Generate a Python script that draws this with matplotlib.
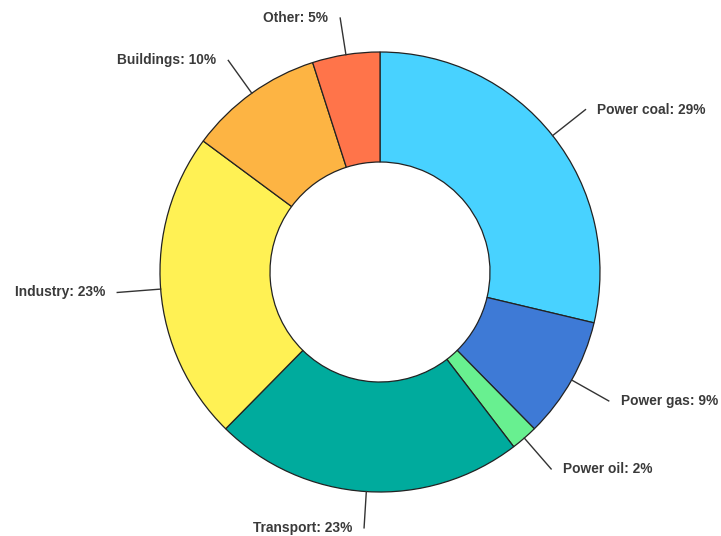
import numpy as np
import matplotlib.pyplot as plt

labels = ["Power coal", "Power gas", "Power oil", "Transport", "Industry", "Buildings", "Other"]
values = [29, 9, 2, 23, 23, 10, 5]
colors = ["#48d2ff", "#3e7ad6", "#68f090", "#00ab9d", "#fff154", "#fdb443", "#ff744a"]

W, H = 721, 536
cx, cy, R = 380, H - 272, 220

fig = plt.figure(figsize=(W / 100, H / 100), dpi=100)
ax = fig.add_axes([0, 0, 1, 1])

wedges, _ = ax.pie(values, colors=colors, startangle=90, counterclock=False,
                   radius=R, center=(cx, cy),
                   wedgeprops=dict(width=0.5 * R, edgecolor="#222222", linewidth=0.9))

for w, lab, v in zip(wedges, labels, values):
    ang = np.deg2rad((w.theta1 + w.theta2) / 2)
    c, s = np.cos(ang), np.sin(ang)
    r1 = R * (1.163 + 0.035 * abs(c))
    x0, y0 = cx + R * c, cy + R * s
    x1, y1 = cx + r1 * c, cy + r1 * s
    ax.plot([x0, x1], [y0, y1], color="#333333", lw=1.0)
    dx = 12 if c >= 0 else -12
    ax.text(x1 + dx, y1, f"{lab}: {v}%", ha="left" if c >= 0 else "right",
            va="center", fontsize=9.9, fontweight="bold", color="#3a3a3a",
            family="Liberation Sans")

ax.set_xlim(0, W)
ax.set_ylim(0, H)
ax.set_aspect("equal")
ax.axis("off")
fig.savefig("out.png", dpi=100)
